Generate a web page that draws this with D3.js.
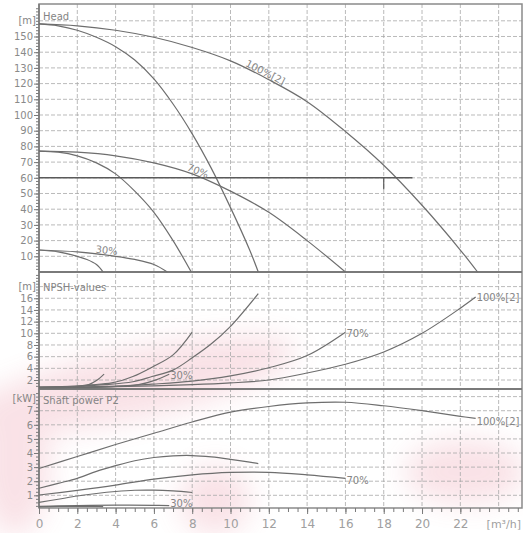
<!DOCTYPE html>
<html>
<head>
<meta charset="utf-8">
<script src="https://cdn.jsdelivr.net/npm/d3@7"></script>
<style>
  body { margin: 0; background: #fff; }
  svg { display: block; font-family: "DejaVu Sans", sans-serif; }
  .grid line { stroke: #a8a8a8; stroke-width: 0.8; stroke-dasharray: 4,2; }
  .curve { fill: none; stroke: #6e6e6e; stroke-width: 1.2; }
  .lbl { fill: #858585; font-size: 10px; }
  .axis text { fill: #8a8a8a; font-size: 10px; font-family: "DejaVu Sans", sans-serif; }
  .axis line { stroke: #7a7a7a; }
  .axis path { display: none; }
</style>
</head>
<body>
<div id="chart"></div>
<script>
// flow ticks [m3/h]
var flowTicks = [0, 2, 4, 6, 8, 10, 12, 14, 16, 18, 20, 22];
var flowGrid = [2, 4, 6, 8, 10, 12, 14, 16, 18, 20, 22, 24];

// head [m]
var headTicks = [10, 20, 30, 40, 50, 60, 70, 80, 90, 100, 110, 120, 130, 140, 150];
var headQ100x2 = [0, 2, 4, 6, 8, 10, 12, 14, 16, 18, 20, 22, 22.9];
var headH100x2 = [158, 156.8, 154, 149.5, 143, 134.5, 122.5, 108.5, 89.5, 68, 42.5, 14, 0];
var headQ100 = [0, 1, 2, 3, 4, 5, 6, 7, 8, 9, 10, 11, 11.45];
var headH100 = [158, 156.8, 154, 149.5, 143.5, 135, 123, 107, 88, 66, 41, 14, 0];
var headQ70x2 = [0, 2, 4, 6, 8, 10, 12, 14, 16];
var headH70x2 = [77, 76.3, 74, 69.5, 62.5, 51.5, 38, 20, 0];
var headQ70 = [0, 1, 2, 3, 4, 5, 6, 7, 7.95];
var headH70 = [77, 76.3, 74, 69.5, 62.5, 51.5, 38, 20, 0];
var headQ30x2 = [0, 2, 4, 5, 6, 6.7];
var headH30x2 = [14, 12.8, 10, 8, 4.8, 0];
var headQ30 = [0, 1, 2, 2.5, 3, 3.35];
var headH30 = [14, 12.8, 10, 8, 4.8, 0];
var dutyQ = 18, dutyH = 60, dutyLineEnd = 19.5;

// NPSH [m]
var npshTicks = [2, 4, 6, 8, 10, 12, 14, 16];
var npshQ100x2 = [0, 4, 8, 10, 12, 14, 16, 18, 20, 22, 22.8];
var npshN100x2 = [0.75, 0.85, 1.2, 1.5, 2.0, 3.2, 4.7, 6.8, 10, 14.3, 16.2];
var npshQ100 = [0, 2, 3.5, 4.9, 5.9, 7, 8, 9, 10, 11.45];
var npshN100 = [0.8, 0.95, 1.2, 1.7, 2.6, 3.7, 5.8, 8.2, 11.2, 16.8];
var npshQ70x2 = [0, 4, 6, 8, 10, 12, 14, 16];
var npshN70x2 = [0.75, 0.95, 1.3, 1.8, 2.7, 4.1, 6.2, 10.2];
var npshQ70 = [0, 2, 2.6, 3.8, 4.9, 5.9, 7, 8];
var npshN70 = [0.75, 0.95, 1.15, 1.5, 2.6, 4.2, 6.3, 10.2];
var npshQ30x2 = [0, 3, 4.4, 5.2, 6, 6.8];
var npshN30x2 = [0.7, 0.75, 0.95, 1.2, 1.9, 3.0];
var npshQ30 = [0, 1.5, 2.2, 2.6, 3, 3.4];
var npshN30 = [0.7, 0.75, 0.95, 1.2, 1.9, 3.0];

// shaft power P2 [kW]
var powTicks = [1, 2, 3, 4, 5, 6, 7];
var powQ100x2 = [0, 2, 4, 6, 8, 10, 12, 14, 16, 18, 20, 22, 22.8];
var powP100x2 = [2.9, 3.75, 4.6, 5.4, 6.2, 6.9, 7.3, 7.55, 7.6, 7.35, 7.0, 6.6, 6.45];
var powQ100 = [0, 1, 2, 3, 4, 5, 6, 7, 8, 9, 10, 11, 11.45];
var powP100 = [1.5, 1.85, 2.2, 2.7, 3.1, 3.45, 3.68, 3.8, 3.82, 3.72, 3.55, 3.35, 3.25];
var powQ70x2 = [0, 2, 4, 6, 8, 10, 12, 14, 16];
var powP70x2 = [1.02, 1.35, 1.72, 2.15, 2.45, 2.62, 2.63, 2.45, 2.2];
var powQ70 = [0, 1, 2, 3, 4, 5, 6, 7, 8];
var powP70 = [0.5, 0.72, 0.95, 1.13, 1.27, 1.36, 1.37, 1.31, 1.2];
var powQ30x2 = [0, 2, 4, 6, 6.8];
var powP30x2 = [0.22, 0.27, 0.3, 0.29, 0.27];
var powQ30 = [0, 1, 2, 3, 3.35];
var powP30 = [0.18, 0.21, 0.22, 0.21, 0.2];

var width = 523, height = 533;
var left = 39, right = 522;
var headTop = 4, npshTop = 272, powTop = 389, bottom = 508;

var x = d3.scaleLinear().domain([0, 25.22]).range([left, right]);
var yHead = d3.scaleLinear().domain([0, 170.7]).range([npshTop, headTop]);
var yNpsh = d3.scaleLinear().domain([0.46, 20.5]).range([powTop, npshTop]);
var yPow = d3.scaleLinear().domain([0.1, 8.54]).range([bottom, powTop]);

var svg = d3.select("#chart").append("svg")
  .attr("width", width)
  .attr("height", height);

// faint watermark behind the chart
var defs = svg.append("defs");
defs.append("filter").attr("id", "blur")
  .attr("x", "-50%").attr("y", "-50%").attr("width", "200%").attr("height", "200%")
  .append("feGaussianBlur").attr("stdDeviation", 14);
var wm = svg.append("g").attr("filter", "url(#blur)").style("opacity", 0.18);
wm.append("ellipse").attr("cx", 130).attr("cy", 385).attr("rx", 170).attr("ry", 35)
  .attr("transform", "rotate(-12,130,385)").attr("fill", "#e0607a");
wm.append("ellipse").attr("cx", 15).attr("cy", 465).attr("rx", 35).attr("ry", 70)
  .attr("fill", "#e0607a");
wm.append("ellipse").attr("cx", 465).attr("cy", 472).attr("rx", 60).attr("ry", 32)
  .attr("fill", "#e0607a");
wm.append("ellipse").attr("cx", 215).attr("cy", 500).attr("rx", 35).attr("ry", 35)
  .attr("fill", "#e0607a");

// grid
var grid = svg.append("g").attr("class", "grid");
grid.selectAll("line.v").data(flowGrid).enter().append("line")
  .attr("x1", function(d) { return x(d); }).attr("x2", function(d) { return x(d); })
  .attr("y1", headTop).attr("y2", bottom);
grid.selectAll("line.h").data(d3.range(10, 161, 10)).enter().append("line")
  .attr("x1", left).attr("x2", right)
  .attr("y1", function(d) { return yHead(d); }).attr("y2", function(d) { return yHead(d); });
grid.selectAll("line.n").data(d3.range(2, 19, 2)).enter().append("line")
  .attr("x1", left).attr("x2", right)
  .attr("y1", function(d) { return yNpsh(d); }).attr("y2", function(d) { return yNpsh(d); });
grid.selectAll("line.p").data(d3.range(1, 9)).enter().append("line")
  .attr("x1", left).attr("x2", right)
  .attr("y1", function(d) { return yPow(d); }).attr("y2", function(d) { return yPow(d); });

// frame
svg.append("rect")
  .attr("x", left).attr("y", headTop)
  .attr("width", right - left).attr("height", bottom - headTop)
  .style("fill", "none").style("stroke", "#8a8a8a").style("stroke-width", 1.5);
[npshTop, powTop].forEach(function(y) {
  svg.append("line").attr("x1", left).attr("x2", right).attr("y1", y).attr("y2", y)
    .style("stroke", "#7a7a7a").style("stroke-width", 2);
});

// y axes with minor ticks
function yAxis(scale, major, minor) {
  svg.append("g").attr("class", "axis")
    .attr("transform", "translate(" + left + ",0)")
    .call(d3.axisLeft(scale).tickValues(minor).tickSize(3).tickFormat(""));
  svg.append("g").attr("class", "axis")
    .attr("transform", "translate(" + left + ",0)")
    .call(d3.axisLeft(scale).tickValues(major).tickSize(5).tickPadding(1));
}
yAxis(yHead, headTicks, d3.range(2, 170, 2));
yAxis(yNpsh, npshTicks, d3.range(1, 20.5, 0.5));
yAxis(yPow, powTicks, d3.range(0.25, 8.5, 0.25));

svg.append("line").attr("x1", left).attr("x2", left).attr("y1", headTop).attr("y2", bottom)
  .style("stroke", "#7a7a7a").style("stroke-width", 1.5);

// x axis
svg.append("g").attr("class", "axis")
  .attr("transform", "translate(0," + bottom + ")")
  .call(d3.axisBottom(x).tickValues(d3.range(0, 25.1, 0.5)).tickSize(4).tickFormat(""));
var xa = svg.append("g").attr("class", "axis")
  .attr("transform", "translate(0," + bottom + ")")
  .call(d3.axisBottom(x).tickValues(flowTicks).tickSize(6).tickPadding(5));
xa.selectAll("text").style("font-size", "12px").style("fill", "#a0a0a0");
svg.append("text").attr("x", right - 1).attr("y", 528)
  .attr("text-anchor", "end").style("font-size", "11px").style("fill", "#a0a0a0")
  .text("[m³/h]");

// units and panel titles
var units = [[yHead(160), "[m]"], [yNpsh(18), "[m]"], [yPow(7.9), "[kW]"]];
units.forEach(function(u) {
  svg.append("text").attr("class", "lbl").attr("x", left - 3).attr("y", u[0])
    .attr("dy", "0.35em").attr("text-anchor", "end").text(u[1]);
});
var titles = [[yHead(163), "Head"], [yNpsh(17.8), "NPSH-values"], [yPow(7.75), "Shaft power P2"]];
titles.forEach(function(t) {
  svg.append("text").attr("class", "lbl").attr("x", left + 4).attr("y", t[0])
    .attr("dy", "0.35em").text(t[1]);
});

// curves
var layer = svg.append("g");
function drawCurve(qs, vs, yScale) {
  var pts = qs.map(function(q, i) { return [q, vs[i]]; });
  var line = d3.line()
    .x(function(d) { return x(d[0]); })
    .y(function(d) { return yScale(d[1]); })
    .curve(d3.curveCatmullRom.alpha(0.5));
  layer.append("path").attr("class", "curve").attr("d", line(pts));
}

drawCurve(headQ100x2, headH100x2, yHead);
drawCurve(headQ100, headH100, yHead);
drawCurve(headQ70x2, headH70x2, yHead);
drawCurve(headQ70, headH70, yHead);
drawCurve(headQ30x2, headH30x2, yHead);
drawCurve(headQ30, headH30, yHead);

drawCurve(npshQ100x2, npshN100x2, yNpsh);
drawCurve(npshQ100, npshN100, yNpsh);
drawCurve(npshQ70x2, npshN70x2, yNpsh);
drawCurve(npshQ70, npshN70, yNpsh);
drawCurve(npshQ30x2, npshN30x2, yNpsh);
drawCurve(npshQ30, npshN30, yNpsh);

drawCurve(powQ100x2, powP100x2, yPow);
drawCurve(powQ100, powP100, yPow);
drawCurve(powQ70x2, powP70x2, yPow);
drawCurve(powQ70, powP70, yPow);
drawCurve(powQ30x2, powP30x2, yPow);
drawCurve(powQ30, powP30, yPow);

// duty point line
svg.append("line")
  .attr("x1", x(0)).attr("x2", x(dutyLineEnd))
  .attr("y1", yHead(dutyH)).attr("y2", yHead(dutyH))
  .style("stroke", "#5a5a5a").style("stroke-width", 1.5);
svg.append("line")
  .attr("x1", x(dutyQ)).attr("x2", x(dutyQ))
  .attr("y1", yHead(dutyH)).attr("y2", yHead(dutyH - 7.5))
  .style("stroke", "#5a5a5a").style("stroke-width", 1.2);

// labels along the head curves
function alongLabel(qs, vs, q, text) {
  var f = d3.scaleLinear().domain(qs).range(vs);
  var px = x(q), py = yHead(f(q));
  var ang = Math.atan2(yHead(f(q + 0.5)) - yHead(f(q - 0.5)), x(q + 0.5) - x(q - 0.5)) * 180 / Math.PI;
  svg.append("text").attr("class", "lbl")
    .attr("transform", "translate(" + px + "," + py + ") rotate(" + ang + ")")
    .attr("text-anchor", "middle").attr("dy", "-0.15em")
    .text(text);
}
alongLabel(headQ100x2, headH100x2, 11.7, "100%[2]");
alongLabel(headQ70x2, headH70x2, 8.2, "70%");
alongLabel(headQ30x2, headH30x2, 3.5, "30%");

// labels at curve ends
function endLabel(qs, vs, yScale, text, dy) {
  var n = qs.length - 1;
  svg.append("text").attr("class", "lbl")
    .attr("x", x(qs[n]) + 1).attr("y", yScale(vs[n]) + dy)
    .attr("dy", "0.35em").text(text);
}
endLabel(npshQ100x2, npshN100x2, yNpsh, "100%[2]", 0);
endLabel(npshQ70x2, npshN70x2, yNpsh, "70%", 1);
endLabel(npshQ30x2, npshN30x2, yNpsh, "30%", 1);
endLabel(powQ100x2, powP100x2, yPow, "100%[2]", 3);
endLabel(powQ70x2, powP70x2, yPow, "70%", 2);
endLabel(powQ30x2, powP30x2, yPow, "30%", -2);
</script>
</body>
</html>
